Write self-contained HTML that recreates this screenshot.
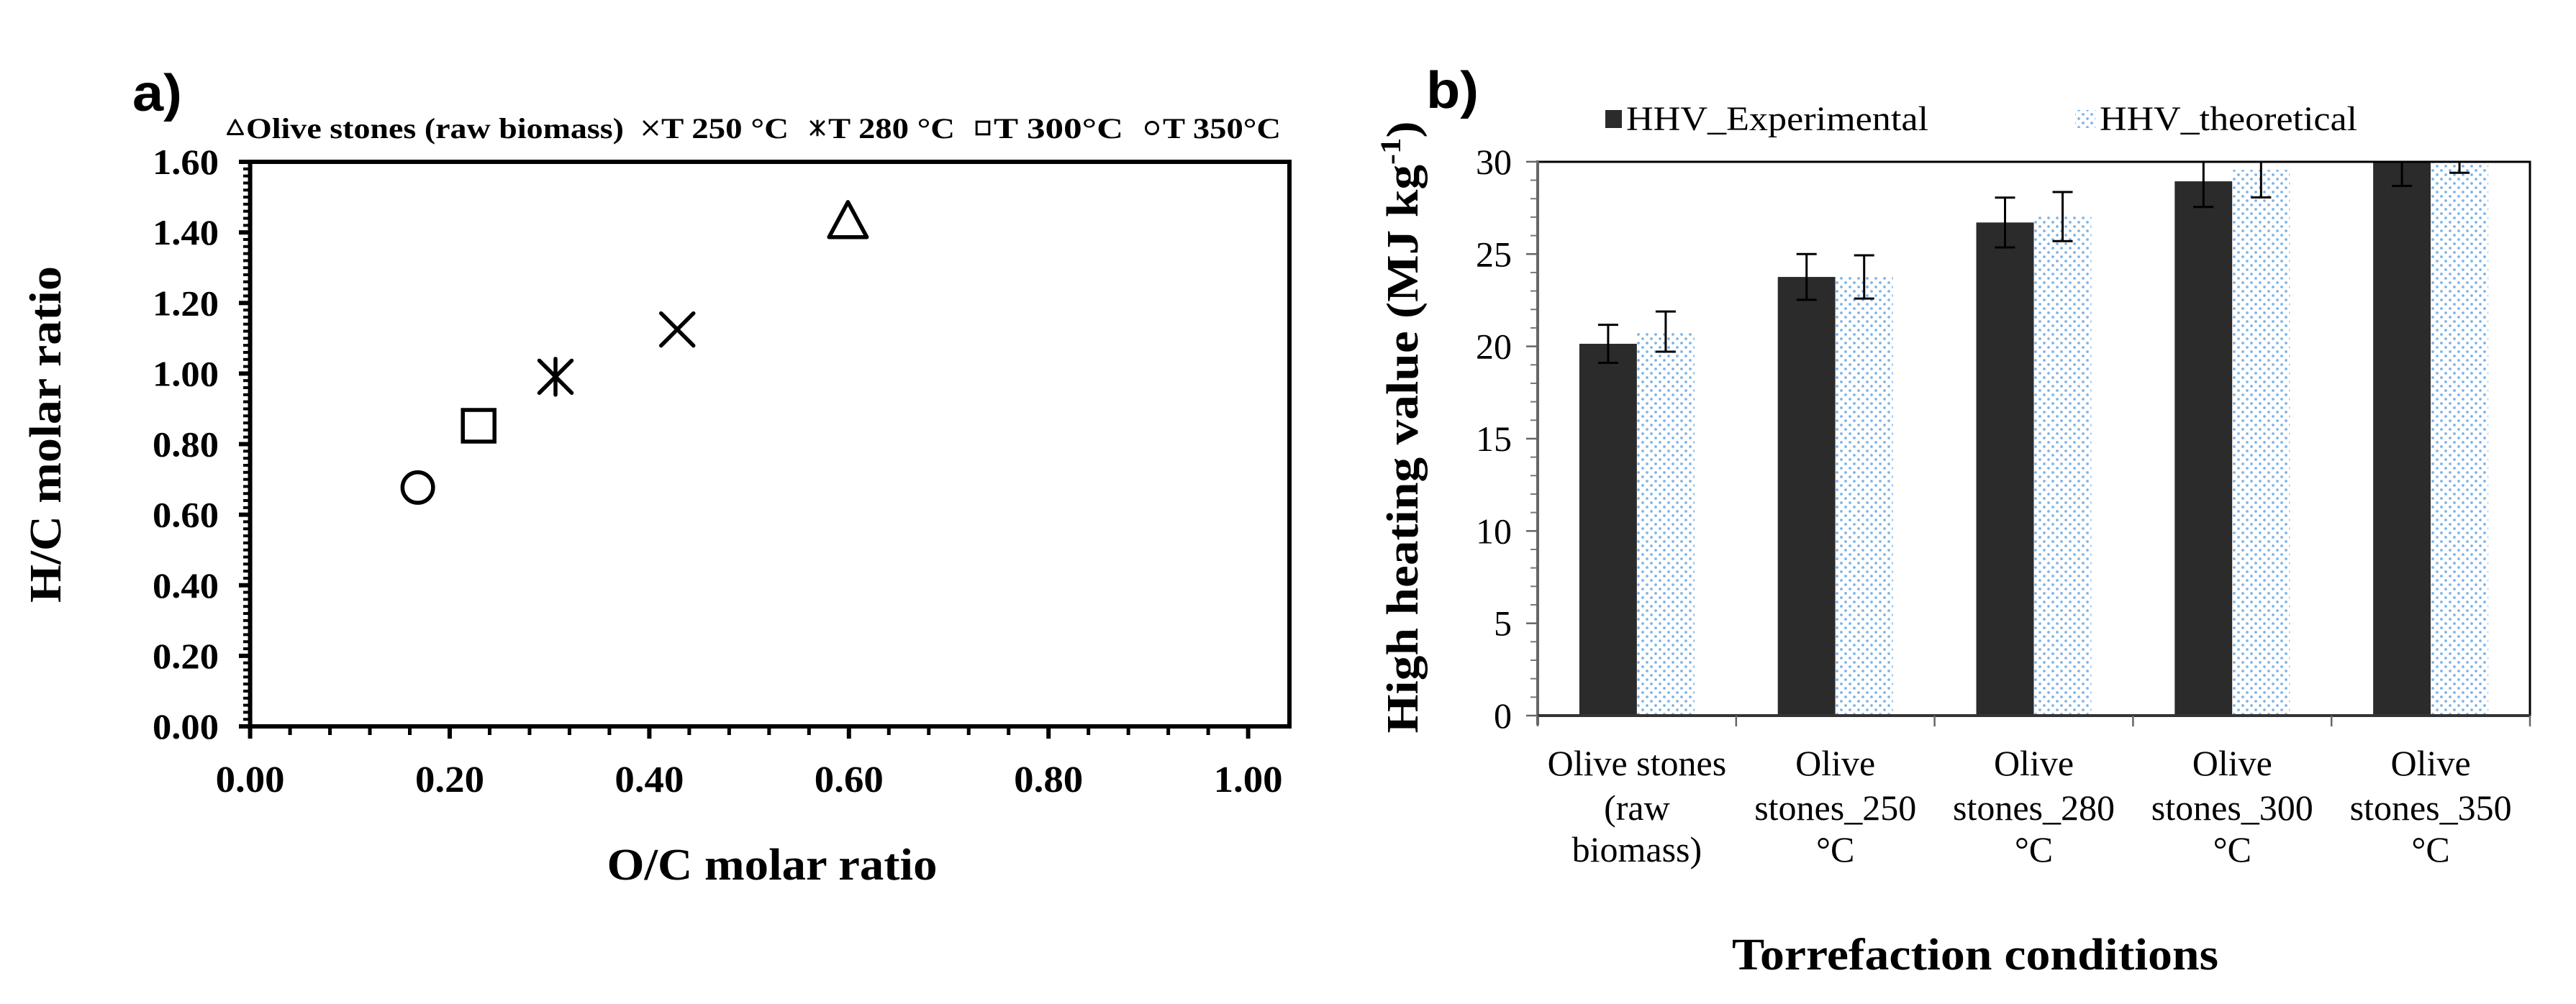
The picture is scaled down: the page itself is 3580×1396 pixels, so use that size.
<!DOCTYPE html>
<html><head><meta charset="utf-8"><style>
html,body{margin:0;padding:0;background:#fff;}
svg{display:block;}
</style></head><body>
<svg id="fig" width="3580" height="1396" viewBox="0 0 3580 1396" xmlns="http://www.w3.org/2000/svg">
<defs>
<pattern id="dots" width="12" height="12" patternUnits="userSpaceOnUse">
<rect width="12" height="12" fill="#fff"/>
<circle cx="3" cy="3" r="1.9" fill="#7eb3e6"/>
<circle cx="9" cy="9" r="1.9" fill="#7eb3e6"/>
</pattern>
<clipPath id="clipB"><rect x="2137" y="225" width="1379" height="770"/></clipPath>
</defs>
<g id="chartA"></g>
<g id="chartB"></g>
</svg>
<script>
// ---- Chart a data ----
const seriesNamesA = ["Olive stones (raw biomass)", "T 250 °C", "T 280 °C", "T  300°C", "T 350°C"];
const ocValues = [0.599, 0.428, 0.306, 0.229, 0.168];
const hcValues = [1.43, 1.125, 0.991, 0.852, 0.677];
const markerTypes = ["triangle", "x", "asterisk", "square", "circle"];
const yTicksA = [0, 0.2, 0.4, 0.6, 0.8, 1.0, 1.2, 1.4, 1.6];
const xTicksA = [0, 0.2, 0.4, 0.6, 0.8, 1.0];

// ---- Chart b data ----
const categoriesB = [["Olive stones","(raw","biomass)"],["Olive","stones_250","°C"],["Olive","stones_280","°C"],["Olive","stones_300","°C"],["Olive","stones_350","°C"]];
const hhvExp = [20.14, 23.76, 26.71, 28.94, 30.1];
const hhvExpErr = [1.03, 1.24, 1.35, 1.39, 1.41];
const hhvTheo = [20.8, 23.76, 27.03, 29.56, 30.1];
const hhvTheoErr = [1.09, 1.17, 1.33, 1.49, 0.7];
const yTicksB = [0, 5, 10, 15, 20, 25, 30];

const NS = "http://www.w3.org/2000/svg";
function mk(parent, tag, attrs, text){
  const e = document.createElementNS(NS, tag);
  for (const k in attrs) e.setAttribute(k, attrs[k]);
  if (text !== undefined) e.textContent = text;
  parent.appendChild(e);
  return e;
}
const SERIF = "'Liberation Serif', 'Times New Roman', serif";
const SANS = "'Liberation Sans', Arial, sans-serif";

// ================= Chart a =================
const A = document.getElementById("chartA");
const ax = v => 347.6 + v * 1387;
const ay = v => 1010 - v * 490.6;

let t;
t = mk(A, "text", {x: 184, y: 154, "font-family": SANS, "font-weight": "bold", "font-size": 72, textLength: 69, lengthAdjust: "spacingAndGlyphs"}, "a)");



// legend
const legX = [[316,867],[893,1096],[1125,1327],[1355,1561],[1590,1780]];
const legGlyph = ["△", "×", "✱", "□", "○"];
for (let i = 0; i < seriesNamesA.length; i++) {
  const g = mk(A, "g", {});
  
  
  const x0 = legX[i][0], x1 = legX[i][1];
  const tx = mk(g, "text", {x: x0 + 26, y: 192, "font-family": SERIF, "font-weight": "bold", "font-size": 40, textLength: x1 - x0 - 26, lengthAdjust: "spacingAndGlyphs"}, seriesNamesA[i]);
  
  
  const cx = x0 + 11, cy = 178;
  drawMarker(g, markerTypes[i], cx, cy, 10, 3);
}

function drawMarker(p, type, cx, cy, s, sw){
  let m;
  if (type === "triangle") m = mk(p, "polygon", {points: `${cx},${cy-s*1.1} ${cx+s*1.05},${cy+s*0.85} ${cx-s*1.05},${cy+s*0.85}`, fill: "none", stroke: "#000", "stroke-width": sw, "stroke-linejoin": "round"});
  else if (type === "x") m = mk(p, "path", {d: `M${cx-s*0.9},${cy-s*0.9}L${cx+s*0.9},${cy+s*0.9}M${cx+s*0.9},${cy-s*0.9}L${cx-s*0.9},${cy+s*0.9}`, stroke: "#000", "stroke-width": sw, "stroke-linecap": "round"});
  else if (type === "asterisk") m = mk(p, "path", {d: `M${cx-s*0.9},${cy-s*0.9}L${cx+s*0.9},${cy+s*0.9}M${cx+s*0.9},${cy-s*0.9}L${cx-s*0.9},${cy+s*0.9}M${cx},${cy-s}L${cx},${cy+s}`, stroke: "#000", "stroke-width": sw, "stroke-linecap": "round"});
  else if (type === "square") m = mk(p, "rect", {x: cx-s*0.88, y: cy-s*0.88, width: s*1.76, height: s*1.76, fill: "none", stroke: "#000", "stroke-width": sw});
  else m = mk(p, "circle", {cx: cx, cy: cy, r: s*0.85, fill: "none", stroke: "#000", "stroke-width": sw});
  return m;
}

// frame
let fr = mk(A, "rect", {x: 347.6, y: 225, width: 1792 - 347.6, height: 785, fill: "none", stroke: "#000", "stroke-width": 6});


// minor ticks y
for (let v = 0; v <= 1.6001; v += 0.02) {
  const l = mk(A, "line", {x1: 338, x2: 347.6, y1: ay(v), y2: ay(v), stroke: "#000", "stroke-width": 4});
  
  
}
for (let v = 0; v <= 1.0001; v += 0.04) {
  const l = mk(A, "line", {x1: ax(v), x2: ax(v), y1: 1010, y2: 1022, stroke: "#000", "stroke-width": 5});
  
  
}
yTicksA.forEach(v => {
  const l = mk(A, "line", {x1: 332, x2: 347.6, y1: ay(v), y2: ay(v), stroke: "#000", "stroke-width": 6});
  
  
  const tx = mk(A, "text", {x: 304, y: ay(v) + 17, "text-anchor": "end", "font-family": SERIF, "font-weight": "bold", "font-size": 50, textLength: 92, lengthAdjust: "spacingAndGlyphs"}, v.toFixed(2));
  
  
});
xTicksA.forEach(v => {
  const l = mk(A, "line", {x1: ax(v), x2: ax(v), y1: 1010, y2: 1027, stroke: "#000", "stroke-width": 6});
  
  
  const tx = mk(A, "text", {x: ax(v), y: 1101, "text-anchor": "middle", "font-family": SERIF, "font-weight": "bold", "font-size": 52, textLength: 96, lengthAdjust: "spacingAndGlyphs"}, v.toFixed(2));
  
  
});
t = mk(A, "text", {x: 1073, y: 1223, "text-anchor": "middle", "font-family": SERIF, "font-weight": "bold", "font-size": 62, textLength: 459, lengthAdjust: "spacingAndGlyphs"}, "O/C molar ratio");


t = mk(A, "text", {x: 0, y: 0, transform: "translate(84,604) rotate(-90)", "text-anchor": "middle", "font-family": SERIF, "font-weight": "bold", "font-size": 62, textLength: 468, lengthAdjust: "spacingAndGlyphs"}, "H/C molar ratio");



for (let i = 0; i < ocValues.length; i++) {
  const g = mk(A, "g", {});
  
  
  drawMarker(g, markerTypes[i], ax(ocValues[i]), ay(hcValues[i]), 25, 5.5);
}

// ================= Chart b =================
const B = document.getElementById("chartB");
const bx0 = 2137, bx1 = 3516, step = (bx1 - bx0) / categoriesB.length;
const by = v => 995 - v * 25.67;
const barW = 80;

t = mk(B, "text", {x: 1982, y: 150, "font-family": SANS, "font-weight": "bold", "font-size": 72, textLength: 73, lengthAdjust: "spacingAndGlyphs"}, "b)");



// legend
let lg = mk(B, "rect", {x: 2231, y: 153, width: 23, height: 25, fill: "#2b2b2b"});


t = mk(B, "text", {x: 2260, y: 181, "font-family": SERIF, "font-size": 48, textLength: 420, lengthAdjust: "spacingAndGlyphs"}, "HHV_Experimental");


lg = mk(B, "rect", {x: 2884, y: 153, width: 28, height: 25, fill: "url(#dots)"});


t = mk(B, "text", {x: 2918, y: 181, "font-family": SERIF, "font-size": 48, textLength: 358, lengthAdjust: "spacingAndGlyphs"}, "HHV_theoretical");



// minor ticks
for (let v = 0; v <= 30; v += 1) {
  const l = mk(B, "line", {x1: 2127, x2: 2137, y1: by(v), y2: by(v), stroke: "#777", "stroke-width": 2});
  
  
}
yTicksB.forEach(v => {
  const l = mk(B, "line", {x1: 2121, x2: 2137, y1: by(v), y2: by(v), stroke: "#666", "stroke-width": 2.5});
  
  
  const tx = mk(B, "text", {x: 2101, y: by(v) + 17, "text-anchor": "end", "font-family": SERIF, "font-size": 50}, String(v));
  
  
});

const bars = mk(B, "g", {"clip-path": "url(#clipB)"});


for (let i = 0; i < categoriesB.length; i++) {
  const c = bx0 + step * (i + 0.5);
  const r1 = mk(bars, "rect", {x: c - barW, y: by(hhvExp[i]), width: barW, height: by(0) - by(hhvExp[i]), fill: "#2b2b2b"});
  
  
  const r2 = mk(bars, "rect", {x: c, y: by(hhvTheo[i]), width: barW, height: by(0) - by(hhvTheo[i]), fill: "url(#dots)"});
  
  
  [[c - barW / 2, hhvExp[i], hhvExpErr[i]], [c + barW / 2, hhvTheo[i], hhvTheoErr[i]]].forEach((e, k) => {
    const hi = by(e[1] + e[2]), lo = by(e[1] - e[2]);
    const eb = mk(bars, "path", {d: `M${e[0]},${hi}V${lo}M${e[0]-14},${hi}H${e[0]+14}M${e[0]-14},${lo}H${e[0]+14}`, stroke: "#000", "stroke-width": 3, fill: "none"});
    
    
  });
}

// frame
fr = mk(B, "path", {d: `M${bx0},225H${bx1}V995`, fill: "none", stroke: "#000", "stroke-width": 3});


let axl = mk(B, "line", {x1: bx0, x2: bx0, y1: 223, y2: 1008, stroke: "#666", "stroke-width": 4});


axl = mk(B, "line", {x1: bx0, x2: bx1, y1: 995, y2: 995, stroke: "#333", "stroke-width": 4});


for (let i = 0; i <= categoriesB.length; i++) {
  const x = bx0 + step * i;
  const l = mk(B, "line", {x1: x, x2: x, y1: 995, y2: 1010, stroke: "#666", "stroke-width": 2.5});
  
  
}
for (let i = 0; i < categoriesB.length; i++) {
  const c = bx0 + step * (i + 0.5);
  const g = mk(B, "text", {"text-anchor": "middle", "font-family": SERIF, "font-size": 50});
  
  
  const ys = [1078, 1140, 1198];
  categoriesB[i].forEach((line, j) => {
    mk(g, "tspan", {x: c, y: ys[j]}, line);
  });
}
t = mk(B, "text", {x: 2745, y: 1348, "text-anchor": "middle", "font-family": SERIF, "font-weight": "bold", "font-size": 62, textLength: 676, lengthAdjust: "spacingAndGlyphs"}, "Torrefaction conditions");


t = mk(B, "text", {x: 0, y: 0, transform: "translate(1970,594) rotate(-90)", "text-anchor": "middle", "font-family": SERIF, "font-weight": "bold", "font-size": 62, textLength: 851, lengthAdjust: "spacingAndGlyphs"});


mk(t, "tspan", {}, "High heating value (MJ kg");
mk(t, "tspan", {dy: -24, "font-size": 40}, "-1");
mk(t, "tspan", {dy: 24}, ")");
</script>
</body></html>
